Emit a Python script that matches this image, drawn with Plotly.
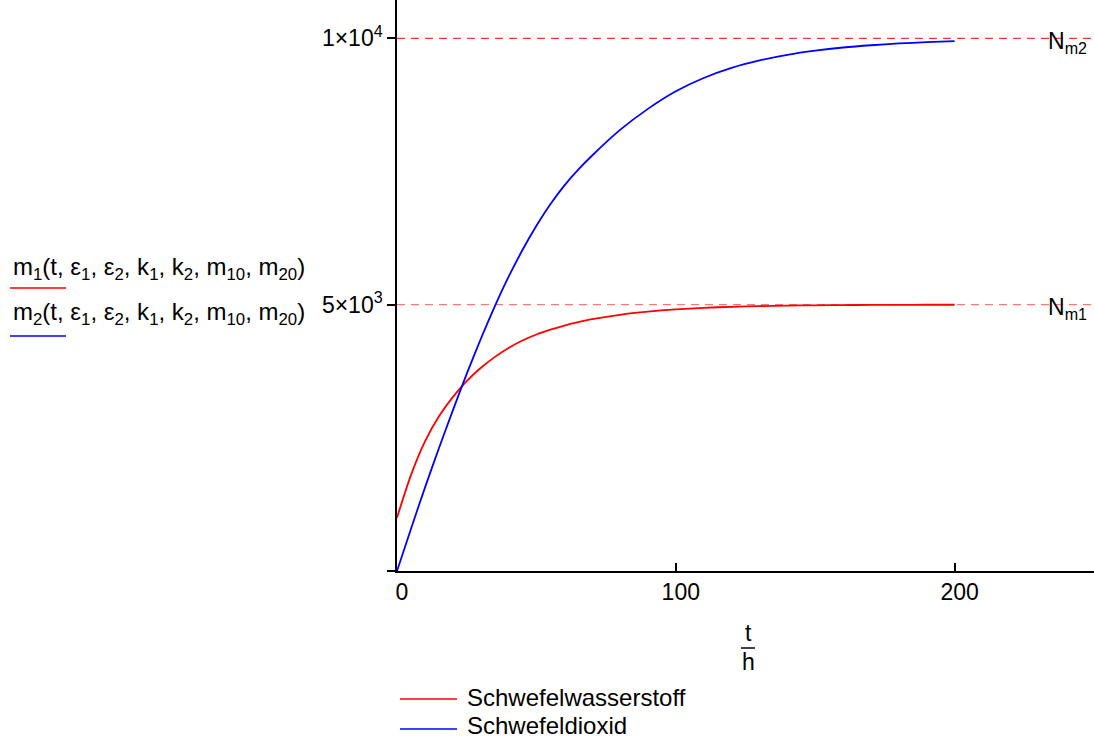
import plotly.graph_objects as go

# ---- data ----
t_vals = [0, 5, 10, 15, 20, 25, 30, 35, 40, 45, 50, 55, 60, 65, 70, 80, 90, 100,
          110, 120, 130, 140, 150, 160, 170, 180, 190, 200]
h2s_vals = [1000, 1800, 2430, 2900, 3265, 3565, 3810, 4015, 4188, 4328, 4440, 4530, 4608, 4672,
            4727, 4810, 4868, 4910, 4940, 4960, 4973, 4982, 4988, 4992, 4995, 4996, 4998, 4998]
so2_vals = [0, 790, 1560, 2300, 3010, 3700, 4350, 4960, 5520, 6025, 6480, 6885, 7235, 7535,
            7800, 8280, 8675, 9005, 9255, 9445, 9585, 9690, 9768, 9827, 9870, 9903, 9927, 9946]
series_names = ["Schwefelwasserstoff", "Schwefeldioxid"]
N_m1 = 5000
N_m2 = 10000
x_ticks = [0, 100, 200]
x_ticklabels = ["0", "100", "200"]
y_ticks = [0, 5000, 10000]
y_ticklabels = ["", "5×10<sup>3</sup>", "1×10<sup>4</sup>"]
x_range = [0, 250]
y_range = [0, 10719]

# ---- layout geometry (pixels) ----
W, H = 1094, 740
L, R, T, B = 397, 0, 0, 169
PW, PH = W - L - R, H - T - B


def px(x):
    return (x - L) / PW


def py(y):
    return (H - B - y) / PH


FONT = "Liberation Sans, Arial, sans-serif"

fig = go.Figure()
fig.add_trace(go.Scatter(x=x_range, y=[N_m2, N_m2], mode="lines",
                         line=dict(color="#ff0000", width=1, dash="8px,6px"),
                         hoverinfo="skip", showlegend=False))
fig.add_trace(go.Scatter(x=x_range, y=[N_m1, N_m1], mode="lines",
                         line=dict(color="#ff6060", width=1, dash="8px,6px"),
                         hoverinfo="skip", showlegend=False))
fig.add_trace(go.Scatter(x=t_vals, y=h2s_vals, mode="lines", name=series_names[0],
                         line=dict(color="#ff0000", width=1.8, shape="spline", smoothing=0.8),
                         showlegend=False))
fig.add_trace(go.Scatter(x=t_vals, y=so2_vals, mode="lines", name=series_names[1],
                         line=dict(color="#0000ff", width=1.8, shape="spline", smoothing=0.8),
                         showlegend=False))

fig.update_xaxes(range=x_range, showgrid=False, zeroline=False, showline=True,
                 linecolor="black", linewidth=1.5, ticks="inside", ticklen=8,
                 tickcolor="black", tickwidth=1.5, tickvals=x_ticks, ticktext=x_ticklabels,
                 tickfont=dict(family=FONT, size=23, color="black"), ticklabelshift=5,
                 automargin=False)
fig.update_yaxes(range=y_range, showgrid=False, zeroline=False, showline=True,
                 linecolor="black", linewidth=1.5, ticks="outside", ticklen=8,
                 tickcolor="black", tickwidth=1.5, tickvals=y_ticks, ticktext=y_ticklabels,
                 tickfont=dict(family=FONT, size=23, color="black"), automargin=False)

annotations = []
shapes = []


def label(x, y, text, size=23, xanchor="center"):
    annotations.append(dict(x=px(x), y=py(y), xref="paper", yref="paper", text=text,
                            showarrow=False, xanchor=xanchor, yanchor="middle",
                            font=dict(family=FONT, size=size, color="black")))


# x axis title t/h
label(748, 633, "t")
label(748, 662, "h")
shapes.append(dict(type="line", xref="paper", yref="paper", x0=px(741), x1=px(755),
                   y0=py(648), y1=py(648), line=dict(color="black", width=1.5)))
# N labels
label(1046, 43, "N<sub>m2</sub>", xanchor="left")
label(1046, 308, "N<sub>m1</sub>", xanchor="left")
# left function legend
func_args = "(t, ε<sub>1</sub>, ε<sub>2</sub>, k<sub>1</sub>, k<sub>2</sub>, m<sub>10</sub>, m<sub>20</sub>)"
label(11, 268, "m<sub>1</sub>" + func_args, size=24, xanchor="left")
label(11, 313, "m<sub>2</sub>" + func_args, size=24, xanchor="left")
shapes.append(dict(type="line", xref="paper", yref="paper", x0=px(10), x1=px(66),
                   y0=py(288), y1=py(288), line=dict(color="#ff0000", width=1.5)))
shapes.append(dict(type="line", xref="paper", yref="paper", x0=px(10), x1=px(66),
                   y0=py(336), y1=py(336), line=dict(color="#0000ff", width=1.5)))
# bottom legend
for name, col, yy, ty in [(series_names[0], "#ff0000", 699, 697), (series_names[1], "#0000ff", 729, 725)]:
    shapes.append(dict(type="line", xref="paper", yref="paper", x0=px(400), x1=px(457),
                       y0=py(yy), y1=py(yy), line=dict(color=col, width=1.5)))
    label(465, ty, name, size=24, xanchor="left")

fig.update_layout(width=W, height=H, margin=dict(l=L, r=R, t=T, b=B, pad=0),
                  plot_bgcolor="white", paper_bgcolor="white",
                  annotations=annotations, shapes=shapes, showlegend=False)
fig.write_html("out.html", config={"displayModeBar": False},
               post_script="document.body.style.margin='0';document.body.style.overflow='hidden';")
